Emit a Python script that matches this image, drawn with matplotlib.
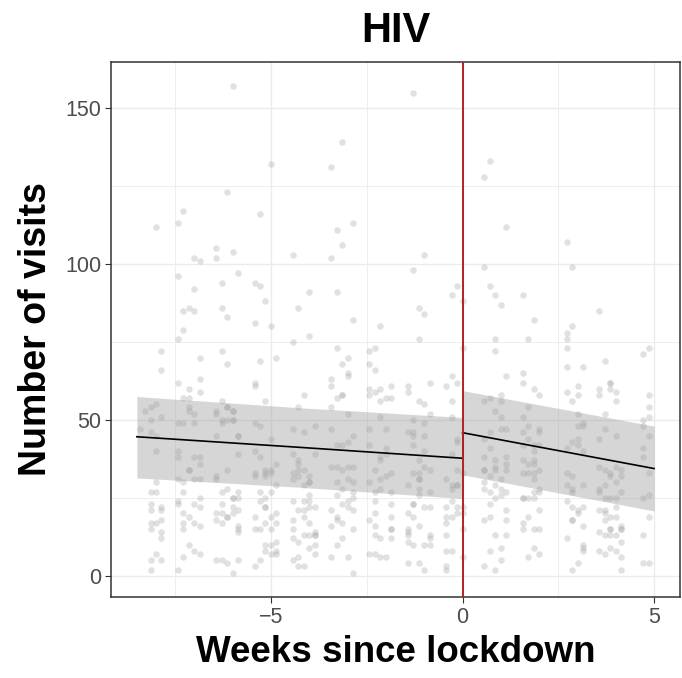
import numpy as np
import matplotlib
matplotlib.use("Agg")
import matplotlib.pyplot as plt

plt.rcParams['font.family'] = ['Liberation Sans', 'DejaVu Sans']

# days since lockdown (x = day / 7 weeks) and the daily visit counts seen on each day
visit_days = [-59, -58, -57, -56, -55, -52, -51, -50, -49, -48,
              -45, -44, -43, -42, -41, -38, -37, -36, -35, -34,
              -31, -30, -29, -28, -27, -24, -23, -22, -21, -20,
              -17, -16, -15, -14, -13, -10, -9, -8, -7, -6,
              -3, -2, -1, 0,
              4, 5, 6, 7, 8, 11, 12, 13, 14,
              19, 20, 21, 22, 25, 26, 27, 28, 29, 33, 34]
visits_by_day = [
    [47], [53],
    [54, 50, 46, 27, 23, 21, 17, 15, 5, 2],
    [112, 55, 45, 40, 30, 27, 17, 7],
    [72, 66, 51, 22, 21, 18, 14, 12, 5],
    [113, 96, 76, 62, 49, 40, 38, 31, 24, 23, 2],
    [117, 85, 79, 57, 49, 30, 27, 20, 17, 15, 6],
    [86, 60, 57, 54, 53, 34, 34, 19, 10],
    [102, 92, 85, 52, 49, 38, 31, 23, 17, 8],
    [101, 70, 63, 59, 38, 36, 31, 25, 22, 16, 7],
    [105, 102, 53, 52, 45, 32, 31, 20, 18, 5],
    [94, 86, 72, 56, 50, 49, 27, 23, 20, 17, 5],
    [123, 83, 68, 54, 54, 50, 34, 28, 19, 19, 4],
    [157, 104, 53, 53, 50, 50, 25, 25, 22, 20, 1],
    [97, 45, 45, 39, 27, 25, 21, 16, 15, 14, 5],
    [94, 81, 62, 61, 49, 40, 33, 32, 19, 15, 3],
    [116, 93, 69, 48, 38, 27, 24, 15, 5],
    [88, 56, 34, 33, 32, 25, 22, 22, 17, 10, 8],
    [132, 80, 44, 34, 33, 27, 19, 15, 10, 7],
    [70, 36, 29, 20, 17, 11, 8, 7],
    [103, 75, 47, 39, 33, 31, 24, 18, 15, 12, 5],
    [86, 54, 37, 36, 34, 32, 21, 11, 6, 3],
    [58, 46, 34, 29, 24, 21, 19, 13, 3],
    [91, 77, 32, 30, 30, 26, 24, 22, 17, 13, 9],
    [48, 39, 22, 14, 13, 13, 10, 7],
    [131, 102, 63, 61, 54, 47, 35, 21, 16, 6],
    [111, 91, 73, 57, 42, 35, 30, 26, 19, 18, 10],
    [139, 106, 68, 58, 58, 42, 34, 28, 23, 17, 12],
    [70, 65, 64, 52, 43, 35, 31, 24, 22, 6],
    [113, 82, 45, 35, 30, 27, 25, 21, 15, 1],
    [72, 68, 60, 58, 47, 42, 30, 18, 7],
    [73, 66, 59, 34, 27, 24, 20, 16, 13, 7],
    [80, 60, 56, 51, 38, 37, 31, 28, 12, 6],
    [57, 47, 41, 39, 32, 6],
    [61, 57, 33, 27, 23, 19, 15, 15, 12],
    [61, 59, 46, 29, 20, 15, 14, 13, 11, 4],
    [155, 98, 50, 46, 45, 42, 33, 23, 23, 19, 10],
    [86, 76, 56, 37, 33, 31, 31, 28, 26, 16, 4],
    [103, 84, 55, 49, 45, 40, 35, 22, 10, 2],
    [62, 52, 34, 27, 22, 13, 12, 10],
    [61, 31, 22, 19, 17, 13, 8, 3, 2],
    [90, 64, 56, 51, 39, 29, 28, 24, 19, 8],
    [93, 62, 44, 43, 34, 29, 29, 22, 20],
    [88, 73, 33, 22, 20, 15, 6],
    [128, 99, 56, 44, 38, 34, 34, 30, 28, 18, 3],
    [133, 93, 57, 46, 41, 32, 27, 23, 19, 8],
    [90, 76, 72, 53, 37, 35, 34, 29, 25, 13, 2],
    [87, 58, 56, 51, 47, 31, 28, 26, 9, 5],
    [112, 64, 47, 38, 36, 34, 27, 21, 18, 13],
    [90, 65, 62, 51, 46, 42, 37, 33, 25, 25, 17, 15],
    [76, 54, 48, 44, 36, 33, 25, 19, 6],
    [82, 60, 42, 40, 37, 36, 33, 31, 27, 25, 15, 9],
    [58, 47, 46, 42, 34, 28, 27, 21, 15, 7],
    [107, 78, 76, 73, 67, 59, 41, 33, 29, 24, 12],
    [99, 80, 56, 43, 32, 28, 27, 22, 18, 18, 2],
    [61, 58, 52, 48, 44, 42, 21, 20, 4],
    [67, 49, 48, 40, 29, 22, 16, 10, 9, 8],
    [85, 60, 58, 44, 35, 28, 27, 21, 14, 8],
    [69, 52, 47, 34, 29, 25, 21, 20, 18, 13, 7],
    [62, 62, 60, 33, 32, 25, 19, 15, 15, 13, 9],
    [59, 56, 45, 35, 30, 25, 22, 19, 13, 8],
    [34, 32, 27, 16, 15, 15, 11, 6, 2],
    [71, 50, 48, 41, 38, 25, 13, 4],
    [73, 58, 54, 51, 45, 33, 26, 19, 4],
]

# fitted segmented trend with its confidence band
fit_weeks_pre = [-8.5, -4.25, 0.0]
fit_pre = [44.6, 41.2, 37.7]
band_pre_hi = [57.5, 53.9, 50.8]
band_pre_lo = [31.4, 28.4, 24.8]
fit_weeks_post = [0.0, 5.0]
fit_post = [45.9, 34.4]
band_post_hi = [59.4, 48.0]
band_post_lo = [32.4, 20.8]

lockdown_week = 0

weeks = np.concatenate([[d / 7] * len(v) for d, v in zip(visit_days, visits_by_day)])
visits = np.concatenate(visits_by_day)

fig = plt.figure(figsize=(6.82, 6.78), dpi=100)
ax = fig.add_axes([111 / 682, 1 - 597 / 678, (680 - 111) / 682, (597 - 62) / 678])

ax.scatter(weeks, visits, s=22, color='#aaaaaa', alpha=0.35, linewidths=0, zorder=2)

ax.fill_between(fit_weeks_pre, band_pre_lo, band_pre_hi, color='#999999', alpha=0.4, linewidth=0, zorder=3)
ax.fill_between(fit_weeks_post, band_post_lo, band_post_hi, color='#999999', alpha=0.4, linewidth=0, zorder=3)
ax.plot(fit_weeks_pre, fit_pre, color='black', lw=1.2, zorder=4)
ax.plot(fit_weeks_post, fit_post, color='black', lw=1.2, zorder=4)
# jump at lockdown
ax.plot([fit_weeks_pre[-1], fit_weeks_post[0]], [fit_pre[-1], fit_post[0]], color='black', lw=1.2, zorder=4)
ax.axvline(lockdown_week, color='#b22222', lw=1.4, zorder=5)

# ggplot-like 5% expansion
xs = np.concatenate([weeks, fit_weeks_pre, fit_weeks_post])
xr = xs.max() - xs.min()
ax.set_xlim(xs.min() - 0.05 * xr, xs.max() + 0.05 * xr)
yr = visits.max() - visits.min()
ax.set_ylim(visits.min() - 0.05 * yr, visits.max() + 0.05 * yr)

ax.set_xticks([-5, 0, 5])
ax.set_xticklabels(['\u22125', '0', '5'])
ax.set_xticks([-7.5, -2.5, 2.5], minor=True)
ax.set_yticks([0, 50, 100, 150])
ax.set_yticks([25, 75, 125], minor=True)
ax.grid(which='major', color='#ebebeb', lw=1.0, zorder=0)
ax.grid(which='minor', color='#ebebeb', lw=0.6, zorder=0)
ax.set_axisbelow(True)
ax.tick_params(which='major', length=4, width=0.8, color='#333333',
               labelcolor='#4d4d4d', labelsize=15.5, pad=3)
ax.tick_params(which='minor', length=0)
for sp in ax.spines.values():
    sp.set_color('#333333')
    sp.set_linewidth(1.1)

ax.set_xlabel('Weeks since lockdown', fontsize=26.5, fontweight='bold', labelpad=5)
ax.set_ylabel('Number of visits', fontsize=27, fontweight='bold', labelpad=8)
fig.text((111 + 680) / 2 / 682, 1 - 31 / 678, 'HIV', ha='center', va='center',
         fontsize=30, fontweight='bold')

fig.savefig('out.png', dpi=100)
